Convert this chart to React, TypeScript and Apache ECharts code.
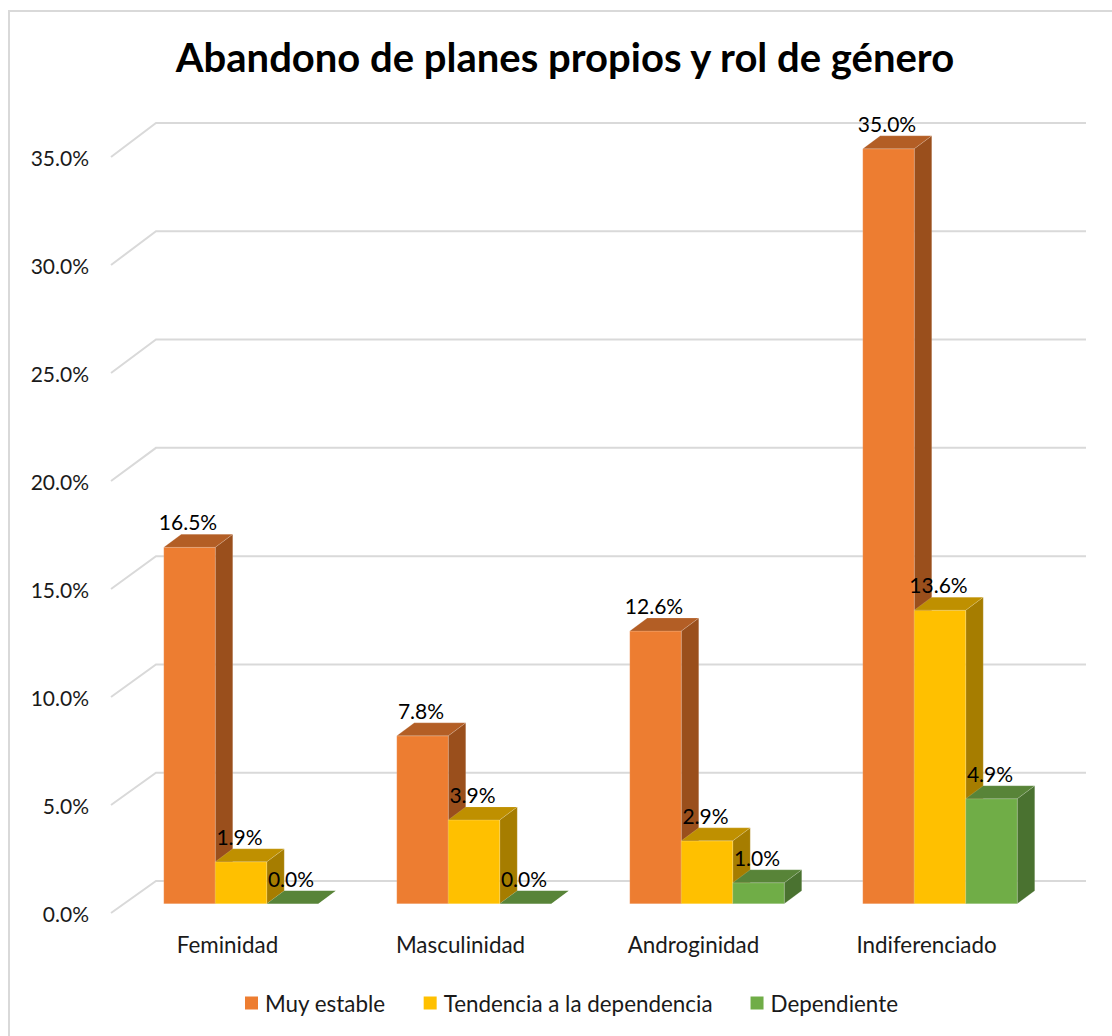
import React, { useEffect, useRef } from "react";
import * as echarts from "echarts";

const titleText = "Abandono de planes propios y rol de género";
const categories = ["Feminidad", "Masculinidad", "Androginidad", "Indiferenciado"];
const muyEstable = [16.5, 7.77, 12.62, 34.95];
const tendencia = [1.94, 3.88, 2.91, 13.59];
const dependiente = [0.0, 0.0, 0.97, 4.86];
const yTicks = [0, 5, 10, 15, 20, 25, 30, 35];

const FONT = "Lato, 'Open Sans', sans-serif";

const shadedBar = (index: number, front: string, top: string, side: string) => (params: any, api: any) => {
  const cat = api.value(0);
  const val = api.value(1);
  const band = api.size([1, 0])[0];
  const w = band * 0.221;
  const [cx] = api.coord([cat, 0]);
  const y0 = api.coord([cat, 0])[1] - 9.3;
  const y1 = api.coord([cat, val])[1] - 9.3;
  const x0 = cx + 13.5 + (index - 1.5) * w;
  const x1 = x0 + w;
  const dx = 17.5;
  const dy = -13;
  const edge = "rgba(255,255,255,0.15)";
  const children: any[] = [];
  if (val > 0) {
    children.push({
      type: "polygon",
      shape: { points: [[x1, y1], [x1 + dx, y1 + dy], [x1 + dx, y0 + dy], [x1, y0]] },
      style: { fill: side, stroke: edge, lineWidth: 1 },
    });
    children.push({
      type: "rect",
      shape: { x: x0, y: y1, width: w, height: y0 - y1 },
      style: { fill: front, stroke: edge, lineWidth: 1 },
    });
  }
  children.push({
    type: "polygon",
    shape: { points: [[x0, y1], [x0 + dx, y1 + dy], [x1 + dx, y1 + dy], [x1, y1]] },
    style: { fill: top, stroke: edge, lineWidth: val > 0 ? 1 : 0 },
  });
  children.push({
    type: "text",
    z2: 100,
    style: {
      text: val.toFixed(1) + "%",
      x: (x0 + x1) / 2 - 1.5,
      y: y1 - 25.5,
      align: "center",
      verticalAlign: "middle",
      fill: "#000",
      font: `21px ${FONT}`,
    },
  });
  return { type: "group", children };
};

const renderWall = (params: any, api: any) => {
  const val = api.value(1);
  const y = api.coord([0, val])[1];
  const { x, width } = params.coordSys;
  const back = y - 32 - (val * 2) / 35;
  return {
    type: "polyline",
    shape: { points: [[x, y], [x + 45, back], [x + 43 + width, back]] },
    style: { fill: "none", stroke: "#d9d9d9", lineWidth: 2 },
  };
};

const toPairs = (values: number[]) => values.map((v, i) => [i, v]);

export default function App() {
  const ref = useRef<HTMLDivElement>(null);
  useEffect(() => {
    const chart = echarts.init(ref.current!, undefined, { renderer: "svg" });
    chart.setOption({
      animation: false,
      backgroundColor: "#fff",
      textStyle: { fontFamily: FONT },
      title: {
        text: titleText,
        left: 560,
        top: 32,
        textAlign: "center",
        textStyle: { fontFamily: FONT, fontSize: 40, fontWeight: "bold", color: "#000" },
      },
      grid: { left: 111, top: 157, width: 932, height: 756 },
      xAxis: {
        type: "category",
        data: categories,
        axisLine: { show: false },
        axisTick: { show: false },
        axisLabel: { fontSize: 22.4, color: "#1a1a1a", margin: 20, fontFamily: FONT },
      },
      yAxis: {
        type: "value",
        min: 0,
        max: 35,
        interval: 5,
        axisLine: { show: false },
        axisTick: { show: false },
        splitLine: { show: false },
        axisLabel: {
          fontSize: 21,
          color: "#1a1a1a",
          margin: 22,
          fontFamily: FONT,
          formatter: (v: number) => v.toFixed(1) + "%",
        },
      },
      legend: {
        data: ["Muy estable", "Tendencia a la dependencia", "Dependiente"],
        left: 245,
        top: 992,
        padding: 0,
        icon: "rect",
        itemWidth: 13,
        itemHeight: 13,
        itemGap: 38,
        textStyle: { fontSize: 22.4, color: "#1a1a1a", fontFamily: FONT, padding: [0, 0, 0, 2] },
      },
      series: [
        {
          type: "custom",
          name: "grid",
          silent: true,
          z: 1,
          data: yTicks.map((t) => [0, t]),
          renderItem: renderWall,
        },
        {
          type: "custom",
          name: "Muy estable",
          z: 2,
          itemStyle: { color: "#ED7D31" },
          data: toPairs(muyEstable),
          renderItem: shadedBar(0, "#ED7D31", "#B35E25", "#9A4F1C"),
        },
        {
          type: "custom",
          name: "Tendencia a la dependencia",
          z: 3,
          itemStyle: { color: "#FFC000" },
          data: toPairs(tendencia),
          renderItem: shadedBar(1, "#FFC000", "#BF9000", "#A67D00"),
        },
        {
          type: "custom",
          name: "Dependiente",
          z: 4,
          itemStyle: { color: "#70AD47" },
          data: toPairs(dependiente),
          renderItem: shadedBar(2, "#70AD47", "#588438", "#4A7230"),
        },
      ],
      graphic: [
        {
          type: "polyline",
          silent: true,
          z: -1,
          shape: { points: [[9, 1036], [9, 11], [1112, 11]] },
          style: { fill: "none", stroke: "#d9d9d9", lineWidth: 2 },
        },
      ],
    });
    return () => chart.dispose();
  }, []);
  return (
    <div
      ref={ref}
      style={{ position: "absolute", left: 0, top: 0, width: 1112, height: 1036 }}
    />
  );
}
